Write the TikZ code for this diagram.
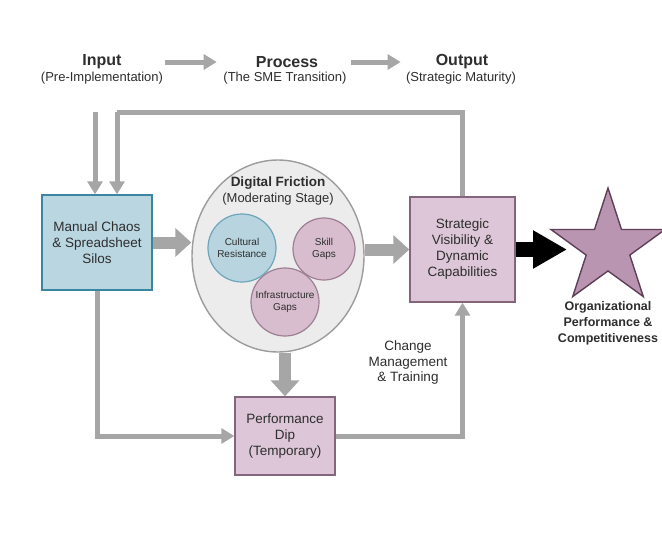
\documentclass[tikz,border=0pt]{standalone}
\usepackage{fontspec}
\setmainfont{Liberation Sans}
\usetikzlibrary{arrows.meta,shapes.geometric}
\definecolor{lgrey}{HTML}{A6A6A6}
\definecolor{bfill}{HTML}{B9D6E1}
\definecolor{bdraw}{HTML}{3A86A2}
\definecolor{pfill}{HTML}{DCC6D7}
\definecolor{pdraw}{HTML}{85657C}
\definecolor{ffill}{HTML}{ECECEC}
\definecolor{fdraw}{HTML}{9C9C9C}
\definecolor{cfill}{HTML}{B7D4DF}
\definecolor{cdraw}{HTML}{6DA5BA}
\definecolor{sfill}{HTML}{D7BDCE}
\definecolor{sdraw}{HTML}{9E7F94}
\definecolor{starfill}{HTML}{BA95B1}
\definecolor{stardraw}{HTML}{5E3F57}
\definecolor{txt}{HTML}{2E2E2E}
\tikzset{
  title/.style={font=\fontsize{16}{18}\selectfont\bfseries, text=txt, inner sep=0pt},
  subtitle/.style={font=\fontsize{13}{15}\selectfont, text=txt, inner sep=0pt},
  boxblue/.style={draw=bdraw, line width=1.4pt, fill=bfill, align=center, text=txt,
    font=\fontsize{13.5}{16}\selectfont, inner sep=2pt},
  boxpink/.style={draw=pdraw, line width=1.4pt, fill=pfill, align=center, text=txt,
    font=\fontsize{13.5}{16}\selectfont, inner sep=2pt},
  smallcirc/.style={circle, line width=1.2pt, align=center, text=txt,
    font=\fontsize{10}{11.5}\selectfont, inner sep=0pt},
  thinarrow/.style={draw=lgrey, line width=5pt, -{Triangle[width=15pt,length=13pt]}},
  thickarrow/.style={draw=lgrey, line width=12pt, -{Triangle[width=28pt,length=16pt]}},
  plainline/.style={draw=lgrey, line width=5pt}
}
\begin{document}
\begin{tikzpicture}[x=1pt,y=-1pt]
\useasboundingbox (0,0) rectangle (662,541);
\fill[white] (0,0) rectangle (662,541);

% headers
\node[title] (intitle) at (102,62) {Input};
\node[subtitle] (insub) at (102,78) {(Pre-Implementation)};
\node[title] (proctitle) at (287,62) {Process};
\node[subtitle] (procsub) at (285,78) {(The SME Transition)};
\node[title] (outtitle) at (462,62) {Output};
\node[subtitle] (outsub) at (461,78) {(Strategic Maturity)};
\draw[thinarrow] ([xshift=43pt]intitle.east) -- ([xshift=-39pt]proctitle.west);
\draw[thinarrow] ([xshift=33pt]proctitle.east) -- ([xshift=-35pt]outtitle.west);

% main boxes
\node[boxblue, minimum width=110pt, minimum height=95pt] (manual) at (97,242.5)
  {Manual Chaos\\\& Spreadsheet\\Silos};
\node[boxpink, minimum width=105pt, minimum height=105pt] (strat) at (462.5,249.5)
  {Strategic\\Visibility \&\\Dynamic\\Capabilities};
\node[boxpink, minimum width=100pt, minimum height=78pt] (perf) at (285,436)
  {Performance\\Dip\\(Temporary)};

% friction ellipse
\node[ellipse, draw=fdraw, line width=1.4pt, fill=ffill, minimum width=172pt, minimum height=192pt] (fric) at (278,256) {};
\node[font=\fontsize{13.5}{15}\selectfont\bfseries, text=txt, inner sep=0pt] (frictitle) at (278,183) {Digital Friction};
\node[font=\fontsize{13}{15}\selectfont, text=txt, inner sep=0pt] (fricsub) at (278,199) {(Moderating Stage)};
\node[smallcirc, draw=cdraw, fill=cfill, minimum size=68pt] (cult) at (242,248) {Cultural\\Resistance};
\node[smallcirc, draw=sdraw, fill=sfill, minimum size=62pt] (skill) at (324,249) {Skill\\Gaps};
\node[smallcirc, draw=sdraw, fill=sfill, minimum size=68pt] (infra) at (285,302) {Infrastructure\\Gaps};

% star
\node[star, star points=5, star point ratio=2.618, minimum size=120pt, inner sep=0pt,
  draw=stardraw, line width=1.4pt, fill=starfill] (star) at (608,248) {};
\node[font=\fontsize{12.5}{16}\selectfont\bfseries, text=txt, align=center, inner sep=0pt] (starlbl) at (608,323)
  {Organizational\\Performance \&\\Competitiveness};

% change management label
\node[font=\fontsize{13.5}{15.5}\selectfont, text=txt, align=center, inner sep=0pt] (cmlbl) at (408,363)
  {Change\\Management\\\& Training};

% connectors
\coordinate (instart) at (95,112);
\draw[thinarrow] (instart) -- (instart |- manual.north);
\coordinate (fbcorner) at (117,112);
\draw[plainline] (strat.north) |- (fbcorner);
\draw[thinarrow] (fbcorner) -- (fbcorner |- manual.north);

\draw[thickarrow] (manual.east) -- (manual.east -| fric.west);
\draw[thickarrow] (fric.east |- strat.west) -- (strat.west);
\draw[thickarrow] (perf.north |- fric.south) -- (perf.north);

\draw[thinarrow] (manual.south) |- (perf.west);
\draw[thinarrow] (perf.east) -| (strat.south);

\coordinate (starin) at (567,249.5);
\draw[black, line width=15pt, -{Triangle[width=36pt,length=34pt]}] (strat.east) -- (starin);
\end{tikzpicture}
\end{document}
